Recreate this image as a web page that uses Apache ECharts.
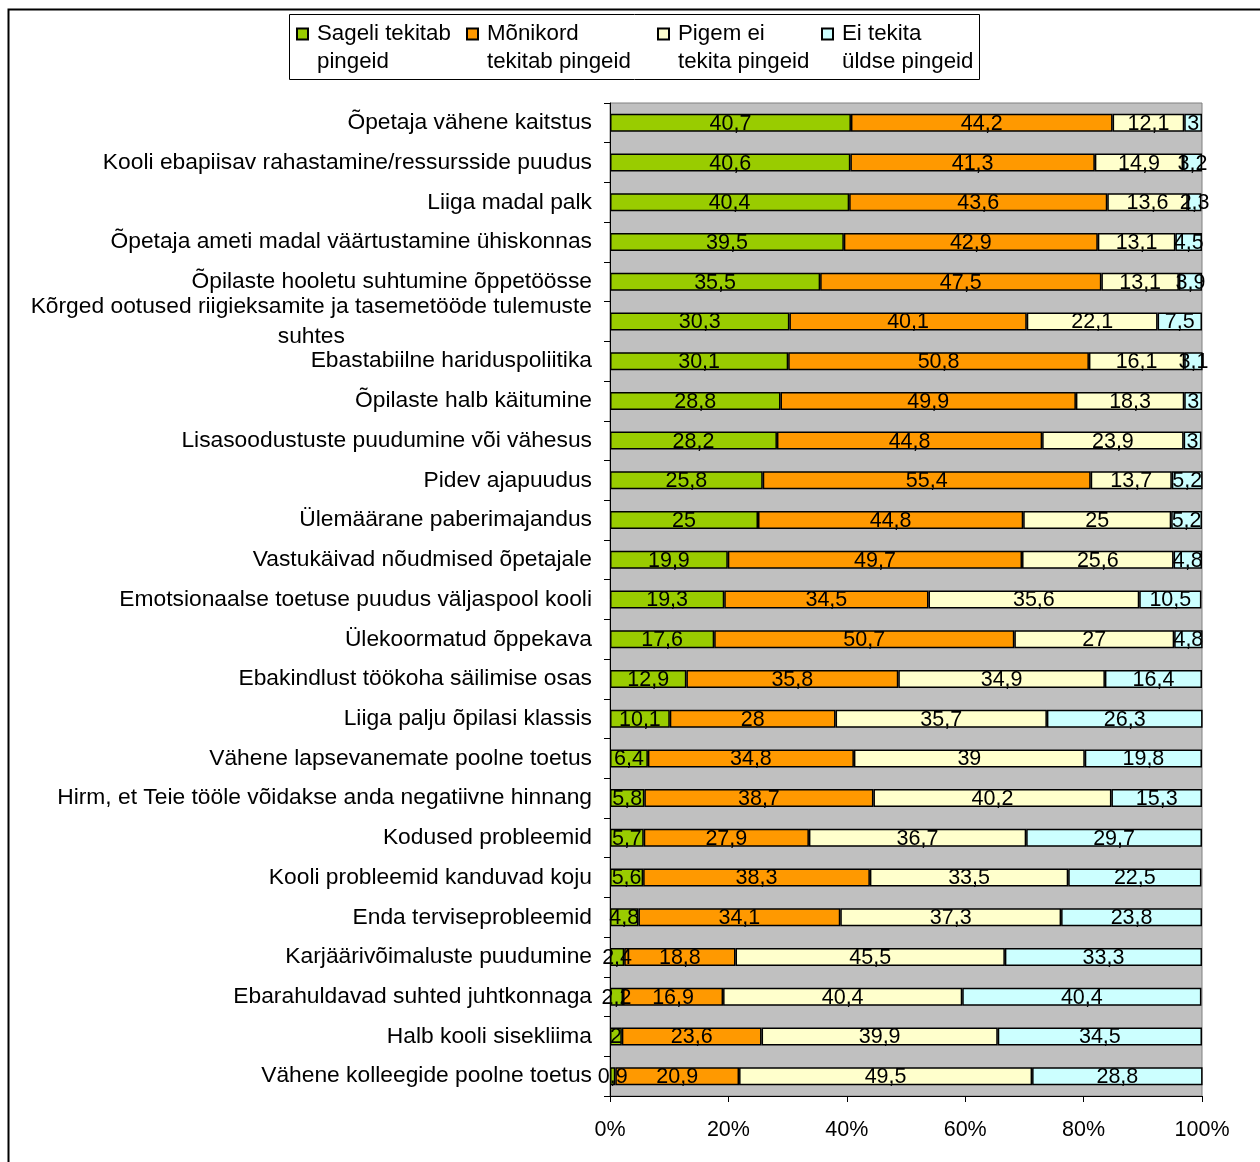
<!DOCTYPE html>
<html>
<head>
<meta charset="utf-8">
<script src="https://cdn.jsdelivr.net/npm/echarts@6/dist/echarts.min.js"></script>
<style>html,body{margin:0;padding:0;background:#fff;}#c{width:1260px;height:1162px;}</style>
</head>
<body>
<div id="c"></div>
<script>
const categories = [
  'Õpetaja vähene kaitstus',
  'Kooli ebapiisav rahastamine/ressursside puudus',
  'Liiga madal palk',
  'Õpetaja ameti madal väärtustamine ühiskonnas',
  'Õpilaste hooletu suhtumine õppetöösse',
  'Kõrged ootused riigieksamite ja tasemetööde tulemuste\nsuhtes',
  'Ebastabiilne hariduspoliitika',
  'Õpilaste halb käitumine',
  'Lisasoodustuste puudumine või vähesus',
  'Pidev ajapuudus',
  'Ülemäärane paberimajandus',
  'Vastukäivad nõudmised õpetajale',
  'Emotsionaalse toetuse puudus väljaspool kooli',
  'Ülekoormatud õppekava',
  'Ebakindlust töökoha säilimise osas',
  'Liiga palju õpilasi klassis',
  'Vähene lapsevanemate poolne toetus',
  'Hirm, et Teie tööle võidakse anda negatiivne hinnang',
  'Kodused probleemid',
  'Kooli probleemid kanduvad koju',
  'Enda terviseprobleemid',
  'Karjäärivõimaluste puudumine',
  'Ebarahuldavad suhted juhtkonnaga',
  'Halb kooli sisekliima',
  'Vähene kolleegide poolne toetus'
];
const seriesNames = ['Sageli tekitab\npingeid', 'Mõnikord\ntekitab pingeid', 'Pigem ei\ntekita pingeid', 'Ei tekita\nüldse pingeid'];
const often     = [40.7, 40.6, 40.4, 39.5, 35.5, 30.3, 30.1, 28.8, 28.2, 25.8, 25, 19.9, 19.3, 17.6, 12.9, 10.1, 6.4, 5.8, 5.7, 5.6, 4.8, 2.4, 2.2, 2, 0.9];
const sometimes = [44.2, 41.3, 43.6, 42.9, 47.5, 40.1, 50.8, 49.9, 44.8, 55.4, 44.8, 49.7, 34.5, 50.7, 35.8, 28, 34.8, 38.7, 27.9, 38.3, 34.1, 18.8, 16.9, 23.6, 20.9];
const rather    = [12.1, 14.9, 13.6, 13.1, 13.1, 22.1, 16.1, 18.3, 23.9, 13.7, 25, 25.6, 35.6, 27, 34.9, 35.7, 39, 40.2, 36.7, 33.5, 37.3, 45.5, 40.4, 39.9, 49.5];
const never     = [3, 3.2, 2.3, 4.5, 3.9, 7.5, 3.1, 3, 3, 5.2, 5.2, 4.8, 10.5, 4.8, 16.4, 26.3, 19.8, 15.3, 29.7, 22.5, 23.8, 33.3, 40.4, 34.5, 28.8];
const xTicks = [0, 20, 40, 60, 80, 100];

const colors = ['#99CC00', '#FF9900', '#FFFFCC', '#CCFFFF'];
const values = [often, sometimes, rather, never];
const FONT = '"Liberation Sans", Arial, sans-serif';

const chart = echarts.init(document.getElementById('c'), null, {renderer: 'canvas'});

const legendLefts = [296, 466, 657, 821];
const iconPath = 'path://M0,0 M0,8.5h11v11h-11z M15,56';

const option = {
  backgroundColor: '#ffffff',
  animation: false,
  graphic: [
    {type: 'rect', z: -10, silent: true, shape: {x: 8.5, y: 9.5, width: 1400, height: 1400},
     style: {fill: 'none', stroke: '#000', lineWidth: 2}},
    {type: 'rect', z: -5, silent: true, shape: {x: 289.5, y: 14.5, width: 690, height: 65},
     style: {fill: '#fff', stroke: '#000', lineWidth: 1}}
  ],
  legend: seriesNames.map((n, i) => ({
    data: [n],
    left: legendLefts[i],
    top: 19,
    padding: 0,
    itemWidth: 15,
    itemHeight: 56,
    icon: iconPath,
    selectedMode: false,
    textStyle: {fontFamily: FONT, fontSize: 22.3, color: '#000', lineHeight: 28}
  })),
  grid: {
    left: 610, right: 58, top: 103, bottom: 66,
    show: true, backgroundColor: '#C0C0C0', borderColor: '#808080', borderWidth: 1,
    containLabel: false
  },
  xAxis: {
    type: 'value', min: 0, max: 100, interval: 20,
    axisLine: {show: true, lineStyle: {color: '#000', width: 1}},
    axisTick: {show: true, length: 6, lineStyle: {color: '#000'}},
    splitLine: {show: false},
    axisLabel: {formatter: '{value}%', fontFamily: FONT, fontSize: 21.5, color: '#000', margin: 23,
                customValues: xTicks}
  },
  yAxis: {
    type: 'category', inverse: true, data: categories,
    axisLine: {show: true, lineStyle: {color: '#000', width: 1}},
    axisTick: {show: true, length: 6, inside: false, lineStyle: {color: '#000'}},
    splitLine: {show: false},
    axisLabel: {
      margin: 18, color: '#000', fontFamily: FONT, fontSize: 22.8, align: 'right',
      formatter: v => v.split('\n').map(s => '{a|' + s + '}').join('\n'),
      rich: {a: {align: 'center', fontFamily: FONT, fontSize: 22.8, lineHeight: 30, color: '#000'}}
    }
  },
  series: seriesNames.map((n, i) => ({
    name: n,
    type: 'bar',
    stack: 'total',
    barWidth: 18,
    data: values[i],
    itemStyle: {color: colors[i], borderColor: '#000', borderWidth: 1.5},
    label: {
      show: true, position: 'inside', color: '#000', fontFamily: FONT, fontSize: 21.5,
      textBorderWidth: 0, offset: [0, 1],
      formatter: p => String(p.value).replace('.', ',')
    },
    emphasis: {disabled: true}
  }))
};
chart.setOption(option);
</script>
</body>
</html>
